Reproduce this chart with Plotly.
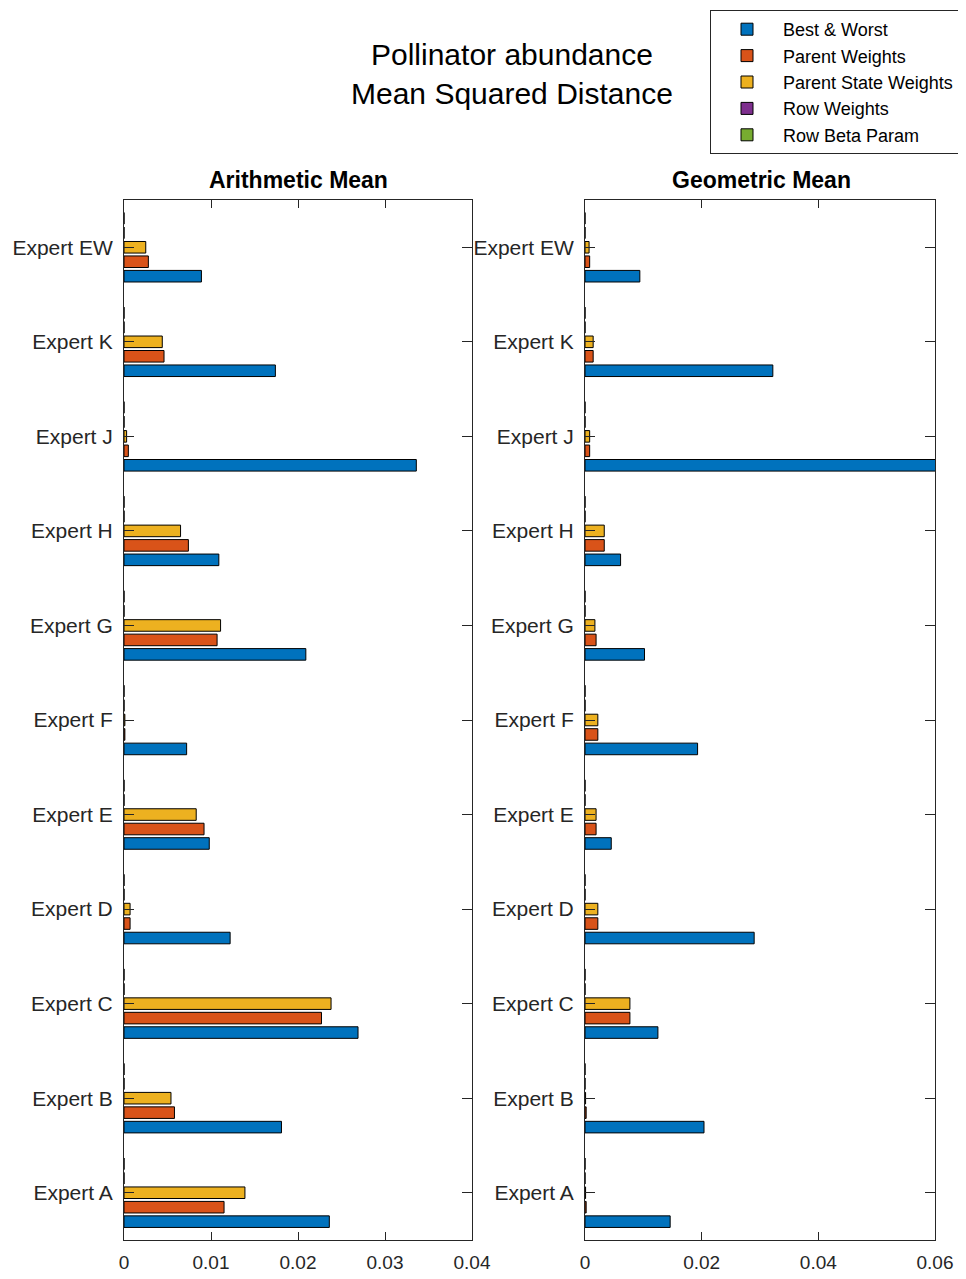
import plotly.graph_objects as go

# categories, bottom to top
experts = ['Expert A', 'Expert B', 'Expert C', 'Expert D', 'Expert E', 'Expert F',
           'Expert G', 'Expert H', 'Expert J', 'Expert K', 'Expert EW']

series_names = ['Best & Worst', 'Parent Weights', 'Parent State Weights',
                'Row Weights', 'Row Beta Param']
series_colors = ['#0072BD', '#D95319', '#EDB120', '#7E2F8E', '#77AC30']

# Arithmetic mean - mean squared distance
arith_best_worst = [0.0236, 0.0181, 0.0269, 0.0122, 0.0098, 0.0072, 0.0209, 0.0109, 0.0336, 0.0174, 0.0089]
arith_parent = [0.0115, 0.0058, 0.0227, 0.0007, 0.0092, 0.0001, 0.0107, 0.0074, 0.0005, 0.0046, 0.0028]
arith_parent_state = [0.0139, 0.0054, 0.0238, 0.0007, 0.0083, 0.0001, 0.0111, 0.0065, 0.0003, 0.0044, 0.0025]
arith_row = [0] * 11
arith_row_beta = [0] * 11

# Geometric mean - mean squared distance
geo_best_worst = [0.0146, 0.0204, 0.0125, 0.0290, 0.0045, 0.0193, 0.0102, 0.0061, 0.0610, 0.0322, 0.0094]
geo_parent = [0.0002, 0.0002, 0.0077, 0.0022, 0.0019, 0.0022, 0.0019, 0.0033, 0.0008, 0.0014, 0.0008]
geo_parent_state = [0.0001, 0.0001, 0.0077, 0.0022, 0.0019, 0.0022, 0.0017, 0.0033, 0.0008, 0.0014, 0.0007]
geo_row = [0] * 11
geo_row_beta = [0] * 11

arith = [arith_best_worst, arith_parent, arith_parent_state, arith_row, arith_row_beta]
geo = [geo_best_worst, geo_parent, geo_parent_state, geo_row, geo_row_beta]

# the page body adds an 8px margin, so the figure is 8px smaller
OFF = 8
W, H = 966 - OFF, 1279 - OFF
FONT = 'Liberation Sans, Arial, sans-serif'
AXCOL = '#262626'


def px_x(p):
    return (p - OFF) / W


def px_y(p):
    return 1 - (p - OFF) / H


fig = go.Figure()

for name, col, vals in zip(series_names, series_colors, arith):
    fig.add_trace(go.Bar(x=vals, y=experts, orientation='h', name=name,
                         marker=dict(color=col, line=dict(color='black', width=1)),
                         xaxis='x', yaxis='y', legendgroup=name))
for name, col, vals in zip(series_names, series_colors, geo):
    fig.add_trace(go.Bar(x=vals, y=experts, orientation='h', name=name,
                         marker=dict(color=col, line=dict(color='black', width=1)),
                         xaxis='x2', yaxis='y2', legendgroup=name, showlegend=False))

common_x = dict(showline=True, linecolor=AXCOL, linewidth=1, mirror='ticks',
                ticks='inside', ticklen=8, tickcolor=AXCOL, showgrid=False, zeroline=False,
                automargin=False,
                tickfont=dict(size=19, color=AXCOL, family=FONT), ticklabelstandoff=5)
common_y = dict(showline=True, linecolor=AXCOL, linewidth=1, mirror='ticks',
                ticks='inside', ticklen=10, tickcolor=AXCOL, showgrid=False, zeroline=False,
                type='category', categoryorder='array', categoryarray=experts,
                range=[-0.5, 10.5], domain=[px_y(1240), px_y(200)], automargin=False,
                tickfont=dict(size=21, color=AXCOL, family=FONT), ticklabelstandoff=6)

fig.update_layout(
    width=W, height=H,
    margin=dict(l=0, r=0, t=0, b=0, autoexpand=False),
    paper_bgcolor='white', plot_bgcolor='white',
    font=dict(family=FONT, color=AXCOL),
    barmode='group', bargap=0.235, bargroupgap=0.2,
    xaxis=dict(domain=[px_x(124), px_x(472)], range=[0, 0.04], dtick=0.01, anchor='y', **common_x),
    xaxis2=dict(domain=[px_x(585), px_x(935)], range=[0, 0.06], dtick=0.02, anchor='y2', **common_x),
    yaxis=dict(anchor='x', **common_y),
    yaxis2=dict(anchor='x2', **common_y),
    legend=dict(x=px_x(710), y=px_y(10), xanchor='left', yanchor='top',
                bordercolor=AXCOL, borderwidth=1, bgcolor='white',
                font=dict(size=18, color='black', family=FONT),
                tracegroupgap=0, itemwidth=62),
    showlegend=True,
)

fig.add_annotation(text='Pollinator abundance<br>Mean Squared Distance',
                   x=px_x(512), y=px_y(74), xref='paper', yref='paper',
                   xanchor='center', yanchor='middle',
                   showarrow=False, font=dict(size=30, color='black', family=FONT))
fig.add_annotation(text='<b>Arithmetic Mean</b>', x=px_x(298), y=px_y(180),
                   xref='paper', yref='paper', xanchor='center', yanchor='middle',
                   showarrow=False, font=dict(size=23, color='black', family=FONT))
fig.add_annotation(text='<b>Geometric Mean</b>', x=px_x(761), y=px_y(180),
                   xref='paper', yref='paper', xanchor='center', yanchor='middle',
                   showarrow=False, font=dict(size=23, color='black', family=FONT))

fig.write_html("out.html")
